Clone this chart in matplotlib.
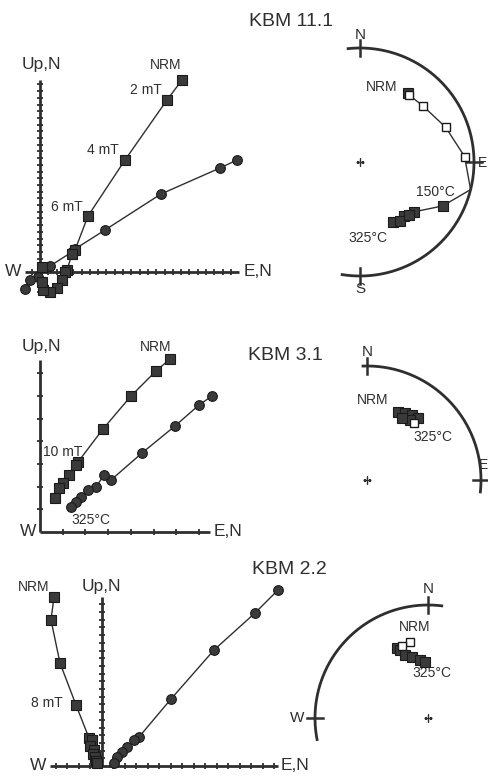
import numpy as np
import matplotlib
matplotlib.use('Agg')
import matplotlib.pyplot as plt

plt.rcParams['font.family'] = ['Liberation Sans', 'DejaVu Sans']

# ---------------- data (arbitrary intensity units) ----------------
# KBM 11.1 orthogonal plot
sq1_x = [14.2, 12.7, 8.5, 4.8, 3.5, 3.2, 2.7, 2.5, 2.2, 1.7, 1.0, 0.3, 0.2, 0.2]
sq1_y = [19.2, 17.2, 11.2, 5.6, 2.2, 1.8, 0.2, 0.0, -0.8, -1.6, -2.0, -1.8, -1.0, 0.5]
ci1_x = [19.7, 18.0, 12.1, 6.5, 3.5, 3.2, 1.0, -0.2, -1.0, -1.5]
ci1_y = [11.2, 10.4, 7.8, 4.2, 2.3, 2.0, 0.6, -0.5, -0.8, -1.7]
# KBM 11.1 stereonet (declination, inclination)
st1_dec = [35, 36, 48, 68, 87, 104, 118, 133, 141, 151, 146, 137]
st1_inc = [27, -28, -27, -20, -9, 0, 19, 36, 39, 40, 38, 37]

# KBM 3.1 orthogonal plot
sq2_x = [13.0, 11.6, 9.1, 6.3, 3.8, 3.6, 2.9, 2.3, 1.9, 1.5]
sq2_y = [17.3, 16.1, 13.6, 10.3, 7.0, 6.7, 5.7, 4.9, 4.4, 3.4]
ci2_x = [17.2, 15.9, 13.5, 10.2, 7.1, 6.4, 5.6, 4.8, 4.1, 3.6, 3.1]
ci2_y = [13.6, 12.7, 10.6, 7.9, 5.2, 5.7, 4.5, 4.2, 3.5, 3.0, 2.5]
# KBM 3.1 stereonet
st2_dec = [24.5, 29.6, 34.7, 39.4, 35.6, 29.4, 39.5]
st2_inc = [34.8, 33.0, 31.3, 30.3, 35.5, 37.5, -35.4]

# KBM 2.2 orthogonal plot
sq3_x = [-4.8, -5.1, -4.2, -2.6, -1.3, -1.0, -1.2, -0.8, -0.9, -0.7, -0.6, -0.5]
sq3_y = [16.9, 14.6, 10.3, 6.1, 2.8, 2.6, 2.0, 1.6, 1.2, 0.9, 0.5, 0.3]
ci3_x = [17.6, 15.3, 11.2, 6.9, 3.7, 3.2, 2.5, 2.0, 1.5, 1.2]
ci3_y = [17.6, 15.3, 11.6, 6.7, 2.9, 2.6, 1.9, 1.4, 0.9, 0.3]
# KBM 2.2 stereonet
st3_dec = [346.7, 340.1, 336.1, 337.6, 340.0, 345.3, 352.1, 356.9]
st3_inc = [-31.5, -32.7, 32.7, 35.2, 40.4, 43.6, 47.0, 48.9]

titles = ['KBM 11.1', 'KBM 3.1', 'KBM 2.2']

# ---------------- layout ----------------
W, H = 489, 777
fig = plt.figure(figsize=(W / 100, H / 100), dpi=100)
INK = '#2f2f2f'
MARK = '#3a3a3a'
FS_T = 14
FS_A = 12.5
FS_L = 10
FS_D = 11


def box(x0, y0, x1, y1):
    return [x0 / W, 1 - y1 / H, (x1 - x0) / W, (y1 - y0) / H]


def zij_axes(ox, oy, x0, y0, x1, y1, s=10.0):
    ax = fig.add_axes(box(x0, y0, x1, y1))
    ax.set_xlim((x0 - ox) / s, (x1 - ox) / s)
    ax.set_ylim((oy - y1) / s, (oy - y0) / s)
    ax.axis('off')
    return ax


def draw_frame(ax, hx, vy, hstep, vstep):
    ax.plot(hx, [0, 0], color=INK, lw=2, solid_capstyle='butt', zorder=2)
    ax.plot([0, 0], vy, color=INK, lw=2, solid_capstyle='butt', zorder=2)
    xt = np.arange(np.ceil(hx[0] / hstep) * hstep, hx[1] - 0.3 * hstep, hstep)
    xt = xt[np.abs(xt) > 1e-6]
    ax.plot(xt, np.zeros_like(xt), ls='none', marker='|', ms=5, mew=1.3,
            color=INK, zorder=2)
    yt = np.arange(np.ceil(vy[0] / vstep) * vstep, vy[1] - 0.3 * vstep, vstep)
    yt = yt[np.abs(yt) > 1e-6]
    ax.plot(np.zeros_like(yt), yt, ls='none', marker='_', ms=5, mew=1.3,
            color=INK, zorder=2)


def series(ax, x, y, marker):
    ax.plot(x, y, color=INK, lw=1.0, zorder=3)
    ax.plot(x, y, ls='none', marker=marker, ms=7, mfc=MARK, mec='#1a1a1a',
            mew=0.8, zorder=4, clip_on=False)


def stereo_axes(cx, cy, R):
    ax = fig.add_axes(box(cx - R, cy - R, cx + R, cy + R), projection='polar')
    ax.set_theta_zero_location('N')
    ax.set_theta_direction(-1)
    ax.set_ylim(0, 1)
    ax.axis('off')
    return ax


def stereo_frame(ax, a0, a1, ticks):
    th = np.radians(np.linspace(a0, a1, 300))
    ax.plot(th, np.ones_like(th), color=INK, lw=2, clip_on=False)
    for t in ticks:
        ax.plot([np.radians(t)] * 2, [0.93, 1.07], color=INK, lw=1.8,
                clip_on=False)
    ax.plot(0, 0, marker='+', ms=6, mew=1, color=INK)


def stereo_data(ax, dec, inc):
    dec = np.asarray(dec, float)
    inc = np.asarray(inc, float)
    th = np.radians(dec)
    r = np.sqrt(2) * np.sin(np.radians(90 - np.abs(inc)) / 2)
    ax.plot(th, r, color=INK, lw=1.0, zorder=3, clip_on=False)
    lo = inc > 0
    up = inc < 0
    ax.plot(th[lo], r[lo], ls='none', marker='s', ms=6.5, mfc=MARK,
            mec='#1a1a1a', mew=0.8, zorder=4, clip_on=False)
    ax.plot(th[up], r[up], ls='none', marker='s', ms=6, mfc='white',
            mec='#1a1a1a', mew=1.0, zorder=5, clip_on=False)


def stxt(ax, x, y, s, **kw):
    kw.setdefault('fontsize', FS_L)
    kw.setdefault('ha', 'center')
    kw.setdefault('va', 'center')
    ax.text(x, y, s, transform=ax.transAxes, color=INK, **kw)


def ztxt(ax, x, y, s, **kw):
    kw.setdefault('fontsize', FS_L)
    kw.setdefault('ha', 'center')
    kw.setdefault('va', 'center')
    ax.text(x, y, s, color=INK, **kw)


# ----- Panel 1: KBM 11.1 -----
a1 = zij_axes(40, 272, 0, 0, 489, 300)
draw_frame(a1, [-1.5, 19.9], [-2.2, 19.2], 0.83, 0.67)
series(a1, ci1_x, ci1_y, 'o')
series(a1, sq1_x, sq1_y, 's')
ztxt(a1, 0.1, 20.7, 'Up,N', fontsize=FS_A)
ztxt(a1, -1.9, 0.0, 'W', fontsize=FS_A, ha='right')
ztxt(a1, 20.4, 0.0, 'E,N', fontsize=FS_A, ha='left')
ztxt(a1, 12.6, 20.7, 'NRM')
ztxt(a1, 10.6, 18.2, '2 mT')
ztxt(a1, 6.3, 12.2, '4 mT')
ztxt(a1, 2.7, 6.5, '6 mT')
fig.text(291 / W, 1 - 22 / H, titles[0], fontsize=FS_T, color=INK,
         ha='center', va='center')

s1 = stereo_axes(360, 162, 114)
stereo_frame(s1, -6, 189, [0, 90, 180])
stereo_data(s1, st1_dec, st1_inc)
stxt(s1, 0.5, 1.055, 'N', fontsize=FS_D)
stxt(s1, 0.5, -0.055, 'S', fontsize=FS_D)
fig.text(487 / W, 1 - 163 / H, 'E', fontsize=FS_L, color=INK,
         ha='right', va='center')
stxt(s1, 0.596, 0.83, 'NRM')
stxt(s1, 0.83, 0.37, '150°C')
stxt(s1, 0.535, 0.165, '325°C')

# ----- Panel 2: KBM 3.1 -----
a2 = zij_axes(40, 532, 0, 300, 489, 545)
draw_frame(a2, [0, 17.0], [0, 17.2], 2.27, 2.27)
series(a2, ci2_x, ci2_y, 'o')
series(a2, sq2_x, sq2_y, 's')
ztxt(a2, 0.1, 18.5, 'Up,N', fontsize=FS_A)
ztxt(a2, -0.4, 0.0, 'W', fontsize=FS_A, ha='right')
ztxt(a2, 17.4, 0.0, 'E,N', fontsize=FS_A, ha='left')
ztxt(a2, 11.6, 18.5, 'NRM')
ztxt(a2, 2.3, 8.0, '10 mT')
ztxt(a2, 5.1, 1.2, '325°C')
fig.text(285 / W, 1 - 355 / H, titles[1], fontsize=FS_T, color=INK,
         ha='center', va='center')

s2 = stereo_axes(367, 480, 114)
stereo_frame(s2, -2, 96, [0, 90])
stereo_data(s2, st2_dec, st2_inc)
stxt(s2, 0.5, 1.06, 'N', fontsize=FS_D)
fig.text(488 / W, 1 - 465 / H, 'E', fontsize=FS_L, color=INK,
         ha='right', va='center')
stxt(s2, 0.526, 0.851, 'NRM')
stxt(s2, 0.79, 0.69, '325°C')

# ----- Panel 3: KBM 2.2 -----
a3 = zij_axes(102, 766, 0, 545, 489, 777)
draw_frame(a3, [-5.2, 17.6], [0, 16.9], 1.15, 0.77)
series(a3, ci3_x, ci3_y, 'o')
series(a3, sq3_x, sq3_y, 's')
ztxt(a3, -0.1, 17.9, 'Up,N', fontsize=FS_A)
ztxt(a3, -5.6, 0.0, 'W', fontsize=FS_A, ha='right')
ztxt(a3, 17.9, 0.0, 'E,N', fontsize=FS_A, ha='left')
ztxt(a3, -6.8, 17.9, 'NRM')
ztxt(a3, -5.5, 6.3, '8 mT')
fig.text(289 / W, 1 - 570 / H, titles[2], fontsize=FS_T, color=INK,
         ha='center', va='center')

s3 = stereo_axes(428, 718, 113)
stereo_frame(s3, 259, 367, [0, 270])
stereo_data(s3, st3_dec, st3_inc)
stxt(s3, 0.5, 1.07, 'N', fontsize=FS_D)
stxt(s3, -0.08, 0.5, 'W', fontsize=FS_D)
stxt(s3, 0.442, 0.903, 'NRM')
stxt(s3, 0.518, 0.699, '325°C')

fig.savefig('out.png', dpi=100)
